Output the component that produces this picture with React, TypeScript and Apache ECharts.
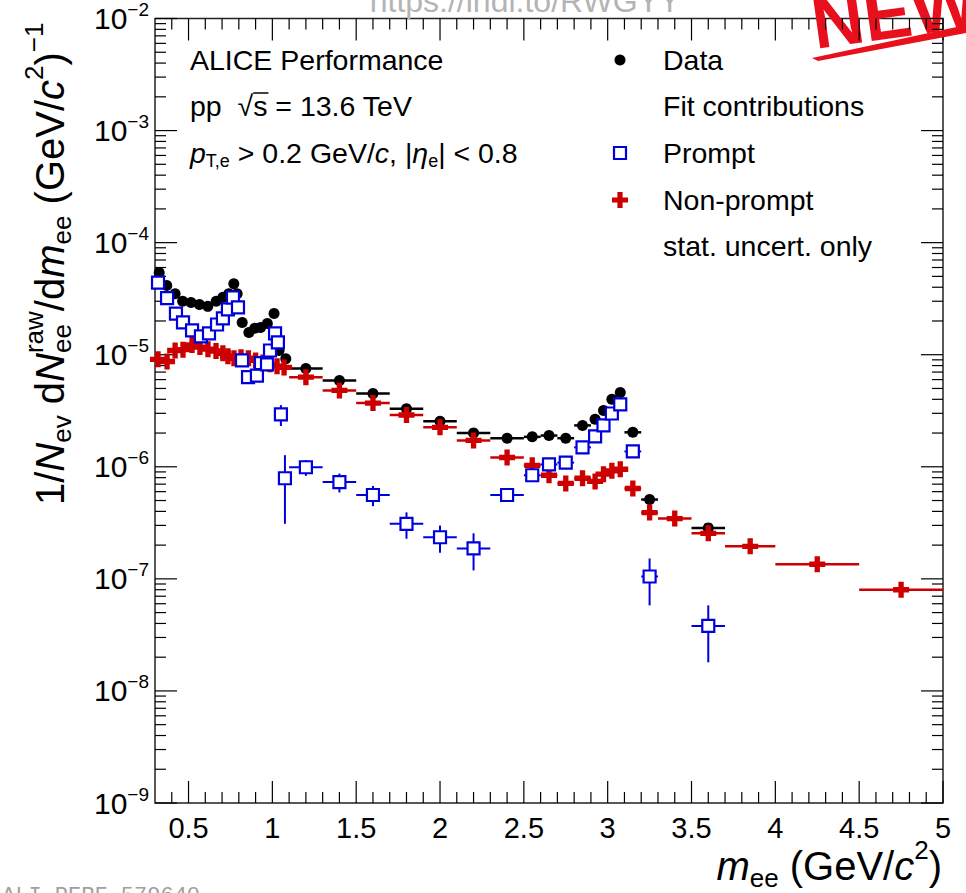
import React, { useEffect, useRef } from "react";
import * as echarts from "echarts";

const FONT = '"Liberation Sans", Arial, Helvetica, sans-serif';
const RED = "#cc0000";
const BLUE = "#0000dd";

// axis ranges and tick labels
const X_MIN = 0.3;
const X_MAX = 5;
const Y_MIN = 1e-9;
const Y_MAX = 1e-2;
const xTickLabels = [0.5, 1, 1.5, 2, 2.5, 3, 3.5, 4, 4.5, 5];
const yTickLabels = [1e-9, 1e-8, 1e-7, 1e-6, 1e-5, 1e-4, 1e-3, 1e-2];

// ---- Data (black points) ----
const dataX = [0.325, 0.37, 0.42, 0.465, 0.515, 0.565, 0.615, 0.665, 0.705, 0.74, 0.77, 0.79, 0.82, 0.86, 0.895, 0.93, 0.97, 1.01, 1.04, 1.08,
  1.2, 1.4, 1.6, 1.8, 2.0, 2.2, 2.4, 2.55, 2.65, 2.75, 2.85, 2.925, 2.975, 3.025, 3.075, 3.15, 3.25, 3.6];
const dataY = [5.4e-5, 4.15e-5, 3.5e-5, 3.0e-5, 2.93e-5, 2.8e-5, 2.7e-5, 3.0e-5, 3.25e-5, 3.5e-5, 4.3e-5, 3.5e-5, 1.94e-5, 1.58e-5, 1.72e-5, 1.75e-5, 1.9e-5, 2.33e-5, 1.09e-5, 9.2e-6,
  7.55e-6, 5.9e-6, 4.5e-6, 3.3e-6, 2.55e-6, 2.0e-6, 1.8e-6, 1.85e-6, 1.9e-6, 1.8e-6, 2.34e-6, 2.65e-6, 3.18e-6, 4.0e-6, 4.6e-6, 2.03e-6, 5.1e-7, 2.85e-7];
const dataXErr = [0.02, 0.02, 0.02, 0.02, 0.02, 0.02, 0.02, 0.02, 0.02, 0.02, 0.02, 0.02, 0.02, 0.02, 0.02, 0.02, 0.02, 0.02, 0.02, 0.02,
  0.1, 0.1, 0.1, 0.1, 0.1, 0.1, 0.1, 0.05, 0.05, 0.05, 0.05, 0.025, 0.025, 0.025, 0.025, 0.05, 0.05, 0.1];

// ---- Non-prompt (red crosses) ----
const npX = [0.318, 0.372, 0.42, 0.467, 0.521, 0.568, 0.616, 0.664, 0.705, 0.735, 0.771, 0.813, 0.857, 0.9, 0.944, 0.986, 1.028, 1.07,
  1.2, 1.4, 1.6, 1.8, 2.0, 2.2, 2.4, 2.55, 2.65, 2.75, 2.85, 2.925, 2.975, 3.025, 3.075, 3.15, 3.25, 3.4, 3.6, 3.85, 4.25, 4.75];
const npY = [9.1e-6, 8.7e-6, 1.09e-5, 1.11e-5, 1.22e-5, 1.17e-5, 1.12e-5, 1.08e-5, 1.03e-5, 9.7e-6, 9.3e-6, 9.5e-6, 9.3e-6, 8.9e-6, 8.5e-6, 8.2e-6, 7.9e-6, 7.7e-6,
  6.3e-6, 4.8e-6, 3.7e-6, 2.9e-6, 2.25e-6, 1.72e-6, 1.21e-6, 1.03e-6, 8.4e-7, 7.1e-7, 7.9e-7, 7.4e-7, 8.6e-7, 9.2e-7, 9.5e-7, 6.4e-7, 3.9e-7, 3.45e-7, 2.55e-7, 1.95e-7, 1.35e-7, 8.0e-8];
const npXErr = [0.02, 0.02, 0.02, 0.02, 0.02, 0.02, 0.02, 0.02, 0.02, 0.02, 0.02, 0.02, 0.02, 0.02, 0.02, 0.02, 0.02, 0.02,
  0.1, 0.1, 0.1, 0.1, 0.1, 0.1, 0.1, 0.05, 0.05, 0.05, 0.05, 0.025, 0.025, 0.025, 0.025, 0.05, 0.05, 0.1, 0.1, 0.15, 0.25, 0.25];

// ---- Prompt (blue open squares) ----
const prX = [0.318, 0.372, 0.425, 0.467, 0.521, 0.574, 0.622, 0.67, 0.705, 0.735, 0.765, 0.795, 0.819, 0.855, 0.908, 0.932, 0.968, 0.986, 1.016, 1.033,
  1.051, 1.075, 1.2, 1.4, 1.6, 1.8, 2.0, 2.2, 2.4, 2.55, 2.65, 2.75, 2.85, 2.925, 2.975, 3.025, 3.075, 3.15, 3.25, 3.6];
const prY = [4.4e-5, 3.2e-5, 2.33e-5, 1.94e-5, 1.65e-5, 1.46e-5, 1.55e-5, 1.86e-5, 2.11e-5, 2.54e-5, 3.24e-5, 2.64e-5, 8.9e-6, 6.3e-6, 6.5e-6, 8.4e-6, 8.2e-6, 1.09e-5, 1.55e-5, 1.29e-5,
  2.93e-6, 7.9e-7, 9.9e-7, 7.3e-7, 5.6e-7, 3.1e-7, 2.35e-7, 1.87e-7, 5.6e-7, 8.4e-7, 1.05e-6, 1.09e-6, 1.49e-6, 1.87e-6, 2.34e-6, 2.99e-6, 3.6e-6, 1.37e-6, 1.05e-7, 3.8e-8];
const prXErr = [0.02, 0.02, 0.02, 0.02, 0.02, 0.02, 0.02, 0.02, 0.02, 0.02, 0.02, 0.02, 0.02, 0.02, 0.02, 0.02, 0.02, 0.02, 0.02, 0.02,
  0.01, 0.015, 0.1, 0.1, 0.1, 0.1, 0.1, 0.1, 0.1, 0.05, 0.05, 0.05, 0.05, 0.025, 0.025, 0.025, 0.025, 0.05, 0.05, 0.1];
const prYErr = [1.5e-6, 1.2e-6, 1.0e-6, 9e-7, 8e-7, 8e-7, 8e-7, 9e-7, 1e-6, 1.1e-6, 1.3e-6, 1.2e-6, 6e-7, 5e-7, 5e-7, 6e-7, 6e-7, 8e-7, 1e-6, 1e-6,
  6.2e-7, 4.8e-7, 1.6e-7, 1.4e-7, 1.15e-7, 8.2e-8, 6.4e-8, 6.8e-8, 4e-8, 5e-8, 5e-8, 5e-8, 6e-8, 8e-8, 9e-8, 1e-7, 1.2e-7, 8e-8, 4.7e-8, 2e-8];

const CROSS = "path://M4,0H8V4H12V8H8V12H4V8H0V4H4Z";

type Piece = { t: string; s: number; i?: boolean; dy?: number; stack?: "open" | "close" };

function makeMeasure() {
  const ctx = document.createElement("canvas").getContext("2d") as CanvasRenderingContext2D;
  return (t: string, s: number, italic: boolean) => {
    ctx.font = `${italic ? "italic " : ""}${s}px ${FONT}`;
    return ctx.measureText(t).width;
  };
}

function txt(text: string, x: number, y: number, size: number, extra: any = {}) {
  return {
    type: "text",
    x,
    y,
    style: {
      text,
      fontSize: size,
      fontFamily: FONT,
      fill: "#000",
      align: "left",
      verticalAlign: "middle",
      textAlign: "left",
      textVerticalAlign: "middle",
      ...extra,
    },
  };
}

function layout(pieces: Piece[], measure: (t: string, s: number, i: boolean) => number) {
  const children: any[] = [];
  let x = 0;
  let stackX = 0;
  let stackW = 0;
  for (const p of pieces) {
    const w = measure(p.t, p.s, !!p.i);
    const px = p.stack === "close" ? stackX : x;
    children.push(txt(p.t, px, p.dy || 0, p.s, { fontStyle: p.i ? "italic" : "normal" }));
    if (p.stack === "open") {
      stackX = x;
      stackW = w;
    } else if (p.stack === "close") {
      x = stackX + Math.max(stackW, w);
    } else {
      x += w;
    }
  }
  return { children, width: x };
}

function errorSeries(name: string, xs: number[], ys: number[], xe: number[], ye: number[] | null, color: string, lw: number, z: number) {
  return {
    type: "custom",
    name,
    silent: true,
    z,
    encode: { x: 0, y: 1 },
    data: xs.map((x, i) => [x, ys[i], xe[i], ye ? ye[i] : 0]),
    renderItem: (_params: any, api: any) => {
      const x = api.value(0);
      const y = api.value(1);
      const dx = api.value(2);
      const dy = api.value(3);
      const l = api.coord([x - dx, y]);
      const r = api.coord([x + dx, y]);
      const children: any[] = [
        { type: "line", shape: { x1: l[0], y1: l[1], x2: r[0], y2: r[1] }, style: { stroke: color, lineWidth: lw } },
      ];
      if (dy > 0) {
        const t = api.coord([x, y + dy]);
        const b = api.coord([x, Math.max(y - dy, Y_MIN)]);
        children.push({ type: "line", shape: { x1: t[0], y1: t[1], x2: b[0], y2: b[1] }, style: { stroke: color, lineWidth: lw } });
      }
      return { type: "group", children };
    },
  };
}

function buildOption() {
  const measure = makeMeasure();

  // tick marks (drawn on all four frame sides, pointing inwards)
  const xMinor: number[] = [];
  for (let k = 4; k < 50; k++) if (k % 5 !== 0) xMinor.push(k / 10);
  const yMinor: number[] = [];
  for (let e = -9; e <= -3; e++) for (let m = 2; m <= 9; m++) yMinor.push(m * Math.pow(10, e));
  const xTickData = [...xTickLabels.map((v) => [v, Y_MIN, 1]), ...xMinor.map((v) => [v, Y_MIN, 0])];
  const yTickData = [...yTickLabels.map((v) => [X_MIN, v, 1]), ...yMinor.map((v) => [X_MIN, v, 0])];
  const MAJ = 22;
  const MIN = 11;
  const tickStyle = { stroke: "#000", lineWidth: 1.2 };

  const xTicks = {
    type: "custom",
    silent: true,
    z: 1,
    encode: { x: 0, y: 1 },
    data: xTickData,
    renderItem: (params: any, api: any) => {
      const cs = params.coordSys;
      const px = api.coord([api.value(0), api.value(1)])[0];
      const len = api.value(2) ? MAJ : MIN;
      const bottom = cs.y + cs.height;
      return {
        type: "group",
        children: [
          { type: "line", shape: { x1: px, y1: bottom, x2: px, y2: bottom - len }, style: tickStyle },
          { type: "line", shape: { x1: px, y1: cs.y, x2: px, y2: cs.y + len }, style: tickStyle },
        ],
      };
    },
  };
  const yTicks = {
    type: "custom",
    silent: true,
    z: 1,
    encode: { x: 0, y: 1 },
    data: yTickData,
    renderItem: (params: any, api: any) => {
      const cs = params.coordSys;
      const py = api.coord([api.value(0), api.value(1)])[1];
      const len = api.value(2) ? MAJ : MIN;
      const right = cs.x + cs.width;
      return {
        type: "group",
        children: [
          { type: "line", shape: { x1: cs.x, y1: py, x2: cs.x + len, y2: py }, style: tickStyle },
          { type: "line", shape: { x1: right, y1: py, x2: right - len, y2: py }, style: tickStyle },
        ],
      };
    },
  };

  // axis titles
  const F = 40;
  const S = 26;
  const yTitle = layout(
    [
      { t: "1/", s: F },
      { t: "N", s: F, i: true },
      { t: "ev", s: S, dy: 12 },
      { t: " d", s: F },
      { t: "N", s: F, i: true },
      { t: "raw", s: S, dy: -16, stack: "open" },
      { t: "ee", s: S, dy: 12, stack: "close" },
      { t: "/d", s: F },
      { t: "m", s: F, i: true },
      { t: "ee", s: S, dy: 12 },
      { t: " (GeV/", s: F },
      { t: "c", s: F, i: true },
      { t: "2", s: S, dy: -16 },
      { t: ")", s: F },
      { t: "−1", s: S, dy: -16 },
    ],
    measure
  );
  const xTitle = layout(
    [
      { t: "m", s: F, i: true },
      { t: "ee", s: S, dy: 12 },
      { t: " (GeV/", s: F },
      { t: "c", s: F, i: true },
      { t: "2", s: S, dy: -16 },
      { t: ")", s: F },
    ],
    measure
  );

  const T = 28.5;
  const ppW = measure("pp  √", T, false);
  const sW = measure("s", T, false);

  const crossPts: number[][] = [
    [-2.6, -8], [2.6, -8], [2.6, -2.6], [8, -2.6], [8, 2.6], [2.6, 2.6], [2.6, 8], [-2.6, 8], [-2.6, 2.6], [-8, 2.6], [-8, -2.6], [-2.6, -2.6],
  ].map(([a, b]) => [620 + a, 200 + b]);

  const richLine3 = {
    n: { fontSize: T, fontFamily: FONT, fill: "#000" },
    i: { fontSize: T, fontFamily: FONT, fontStyle: "italic", fill: "#000" },
    sub: { fontSize: 18, fontFamily: FONT, fill: "#000", padding: [16, 0, 0, 0] },
  };

  const graphic: any[] = [
    // y title (rotated)
    { type: "group", x: 50, y: 505, rotation: Math.PI / 2, children: yTitle.children, z: 50 },
    // x title (right aligned)
    { type: "group", x: 942 - xTitle.width, y: 866, children: xTitle.children, z: 50 },
    // in-plot texts
    txt("ALICE Performance", 190, 60, T),
    txt("pp  √s = 13.6 TeV", 190, 106, T),
    { type: "line", shape: { x1: 190 + ppW, y1: 93, x2: 190 + ppW + sW + 1, y2: 93 }, style: { stroke: "#000", lineWidth: 1.5 } },
    {
      type: "text",
      x: 190,
      y: 153,
      style: {
        text: "{i|p}{sub|T,e}{n| > 0.2 GeV/}{i|c}{n|, |}{i|η}{sub|e}{n|| < 0.8}",
        rich: richLine3,
        fontSize: T,
        fontFamily: FONT,
        align: "left",
        verticalAlign: "middle",
        textAlign: "left",
        textVerticalAlign: "middle",
      },
    },
    // legend
    { type: "circle", shape: { cx: 620, cy: 60, r: 5.5 }, style: { fill: "#000" } },
    txt("Data", 663, 60, T),
    txt("Fit contributions", 663, 106, T),
    { type: "rect", shape: { x: 614, y: 147, width: 12, height: 12 }, style: { fill: "#fff", stroke: BLUE, lineWidth: 2.2 } },
    txt("Prompt", 663, 153, T),
    { type: "polygon", shape: { points: crossPts }, style: { fill: RED } },
    txt("Non-prompt", 663, 200, T),
    txt("stat. uncert. only", 663, 246, T),
    // watermarks
    txt("https://indi.to/RWGYY", 525, 17, 32, { fill: "#b4b4b4", align: "center", textAlign: "center", verticalAlign: "bottom", textVerticalAlign: "bottom" }),
    txt("ALI-PERF-579640", 2, 885, 22, { fill: "#a0a0a0", fontFamily: '"Liberation Mono", monospace', verticalAlign: "top", textVerticalAlign: "top" }),
    // "NEW" stamp
    {
      type: "group",
      x: 815,
      y: 46,
      rotation: 0.14,
      z: 60,
      children: [
        txt("NEW", 0, 14, 72, { fill: "#e8101c", fontWeight: "bold", verticalAlign: "bottom", textVerticalAlign: "bottom" }),
      ],
    },
    {
      type: "polygon",
      z: 60,
      shape: { points: [[812, 58], [966, 25], [966, 33], [818, 61]] },
      style: { fill: "#e8101c" },
    },
  ];

  return {
    animation: false,
    backgroundColor: "#fff",
    textStyle: { fontFamily: FONT },
    grid: { left: 155, right: 23, top: 18, bottom: 90, show: true, borderColor: "#222", borderWidth: 1.5, backgroundColor: "transparent" },
    xAxis: {
      type: "value",
      min: X_MIN,
      max: X_MAX,
      axisLine: { show: false },
      axisTick: { show: false },
      splitLine: { show: false },
      axisLabel: { customValues: xTickLabels, fontSize: 29, color: "#000", fontFamily: FONT, margin: 10 },
    },
    yAxis: {
      type: "log",
      logBase: 10,
      min: Y_MIN,
      max: Y_MAX,
      axisLine: { show: false },
      axisTick: { show: false },
      splitLine: { show: false },
      axisLabel: {
        customValues: yTickLabels,
        margin: 6,
        formatter: (v: number) => {
          const e = Math.round(Math.log10(v));
          return `{b|10}{s|${e < 0 ? "−" : ""}${Math.abs(e)}}`;
        },
        rich: {
          b: { fontSize: 30, fontFamily: FONT, color: "#000" },
          s: { fontSize: 19, fontFamily: FONT, color: "#000", padding: [0, 0, 18, 0] },
        },
      },
    },
    graphic,
    series: [
      xTicks,
      yTicks,
      errorSeries("Data err", dataX, dataY, dataXErr, null, "#000", 2.5, 2),
      { type: "scatter", name: "Data", z: 3, data: dataX.map((x, i) => [x, dataY[i]]), symbol: "circle", symbolSize: 11, itemStyle: { color: "#000", opacity: 1 } },
      errorSeries("Non-prompt err", npX, npY, npXErr, null, RED, 2.5, 4),
      { type: "scatter", name: "Non-prompt", z: 5, data: npX.map((x, i) => [x, npY[i]]), symbol: CROSS, symbolSize: 16, itemStyle: { color: RED, opacity: 1 } },
      errorSeries("Prompt err", prX, prY, prXErr, prYErr, BLUE, 2, 6),
      {
        type: "scatter",
        name: "Prompt",
        z: 7,
        data: prX.map((x, i) => [x, prY[i]]),
        symbol: "rect",
        symbolSize: 12,
        itemStyle: { color: "#fff", borderColor: BLUE, borderWidth: 2.2, opacity: 1 },
      },
    ],
  };
}

export default function App() {
  const ref = useRef<HTMLDivElement>(null);
  useEffect(() => {
    const el = ref.current as HTMLDivElement;
    const chart = echarts.init(el, null, { renderer: "svg" });
    chart.setOption(buildOption() as any);
    return () => chart.dispose();
  }, []);
  return (
    <div
      ref={ref}
      style={{ position: "fixed", left: 0, top: 0, width: 966, height: 893, background: "#fff" }}
    />
  );
}
